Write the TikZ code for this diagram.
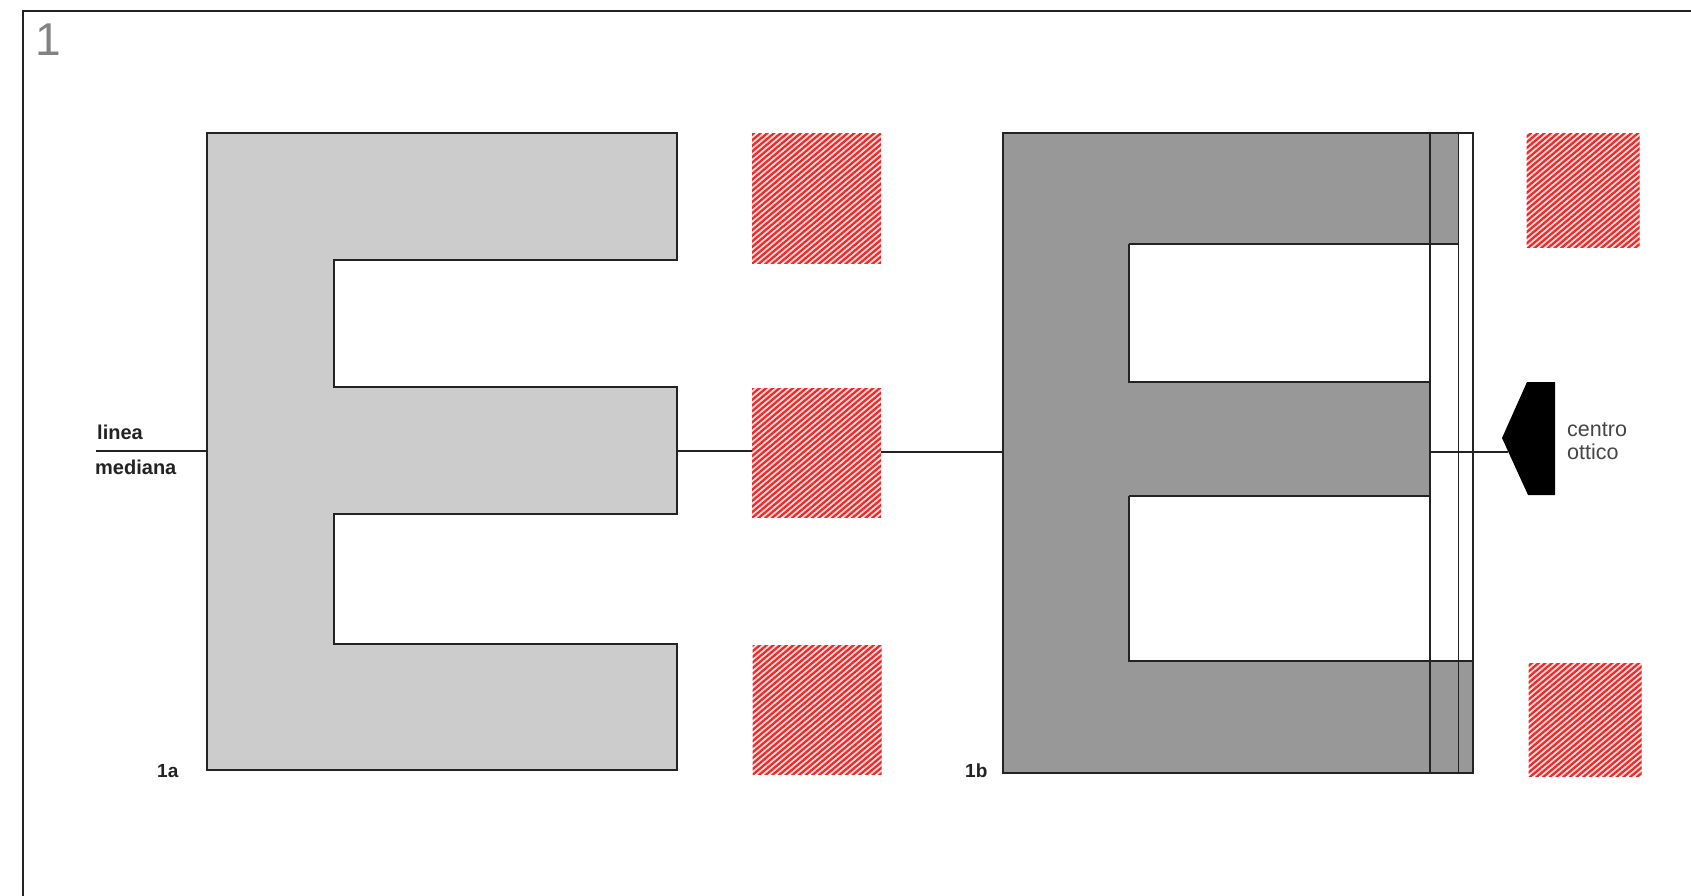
\documentclass[tikz,border=0pt]{standalone}
\usepackage{fontspec}
\setmainfont{Liberation Sans}
\usetikzlibrary{calc}

\definecolor{paleE}{RGB}{204,204,204}
\definecolor{darkE}{RGB}{152,152,152}
\definecolor{hatchred}{RGB}{240,40,40}
\definecolor{hatchpink}{RGB}{255,218,218}
\definecolor{inkline}{RGB}{35,35,35}
\definecolor{numgray}{RGB}{130,130,130}
\definecolor{softtext}{RGB}{70,70,70}

\begin{document}
\begin{tikzpicture}[x=1pt,y=-1pt,
  outline/.style={draw=inkline,line width=1.2pt},
  guide/.style={draw=inkline,line width=1.4pt},
  label/.style={inner sep=0pt,anchor=base west,font=\fontsize{20}{22}\selectfont,text=inkline},
  hatchbox/.style={inner sep=0pt,minimum width=#1,minimum height=#1,fill=hatchpink,
    path picture={
      \foreach \k in {-24,...,24}{
        \draw[hatchred,line width=2.2pt]
          ($(path picture bounding box.center)+({\k*4.3*sin(40)-120*cos(40)},{\k*4.3*cos(40)+120*sin(40)})$)
          -- ++({240*cos(40)},{-240*sin(40)});
      }
    }},
  hatchbox/.default=129pt]

\useasboundingbox (0,0) rectangle (1691,896);
\fill[white] (0,0) rectangle (1691,896);

% page frame
\draw[inkline,line width=1.3pt] (23,896) -- (23,11) -- (1691,11);
\node[anchor=north west,inner sep=0pt,text=numgray,font=\fontsize{46}{46}\selectfont] (fig) at (35,24) {1};

% --- 1a: light E ---
\draw[outline,fill=paleE]
  (207,133) -- (677,133) -- (677,260) -- (334,260) -- (334,387) -- (677,387)
  -- (677,514) -- (334,514) -- (334,644) -- (677,644) -- (677,770) -- (207,770) -- cycle;
\coordinate (Ea-left) at (207,451);
\coordinate (Ea-right) at (677,451);
\node[label,font=\bfseries\fontsize{19}{22}\selectfont] (tag-a) at (157,777) {1a};

% mediana label
\coordinate (med-start) at (96,451);
\node[label,font=\bfseries\fontsize{20}{22}\selectfont] (linea) at (97,439) {linea};
\node[label,font=\bfseries\fontsize{20}{22}\selectfont] (mediana) at (95,474) {mediana};
\draw[guide] (med-start) -- (Ea-left);

% left column of hatched squares
\node[hatchbox] (ra1) at (816.5,198.5) {};
\node[hatchbox] (ra2) at (816.5,452.5) {};
\node[hatchbox] (ra3) at (817,709.5) {};

% --- 1b: dark E with optical correction strips ---
\draw[fill=darkE,draw=none]
  (1003,133) -- (1458,133) -- (1458,244) -- (1129,244) -- (1129,382) -- (1430,382)
  -- (1430,496) -- (1129,496) -- (1129,661) -- (1473,661) -- (1473,773) -- (1003,773) -- cycle;
\draw[outline] (1003,773) -- (1003,133) -- (1473,133) -- (1473,773) -- cycle;
\draw[outline] (1129,244) -- (1458,244);
\draw[outline] (1129,244) -- (1129,382) -- (1430,382);
\draw[outline] (1129,496) -- (1430,496);
\draw[outline] (1129,496) -- (1129,661) -- (1473,661);
\draw[inkline,line width=2pt] (1430,133) -- (1430,773);
\draw[outline,line width=1.4pt] (1458.5,133) -- (1458.5,773);
\coordinate (Eb-left) at (1003,452);
\coordinate (Eb-mid) at (1430,452);
\node[label,font=\bfseries\fontsize{19}{22}\selectfont] (tag-b) at (965,777) {1b};

% links across the middle line
\draw[guide] (Ea-right) -- (ra2.west |- Ea-right);
\draw[guide] (ra2.east |- Eb-left) -- (Eb-left);

% optical-centre marker
\fill[black] (1527,382) -- (1555,382) -- (1555,495) -- (1528,495) -- (1502,438) -- cycle;
\coordinate (tip) at (1508,452);
\draw[guide,line width=1.2pt] (Eb-mid) -- (tip);
\node[label,text=softtext,font=\fontsize{21.5}{22}\selectfont] (centro) at (1567,436) {centro};
\node[label,text=softtext,font=\fontsize{21.5}{22}\selectfont] (ottico) at (1567,459) {ottico};

% right column of hatched squares
\node[hatchbox=113pt] (rb1) at (1583,190.5) {};
\node[hatchbox=113pt] (rb2) at (1585,719.5) {};
\end{tikzpicture}
\end{document}
